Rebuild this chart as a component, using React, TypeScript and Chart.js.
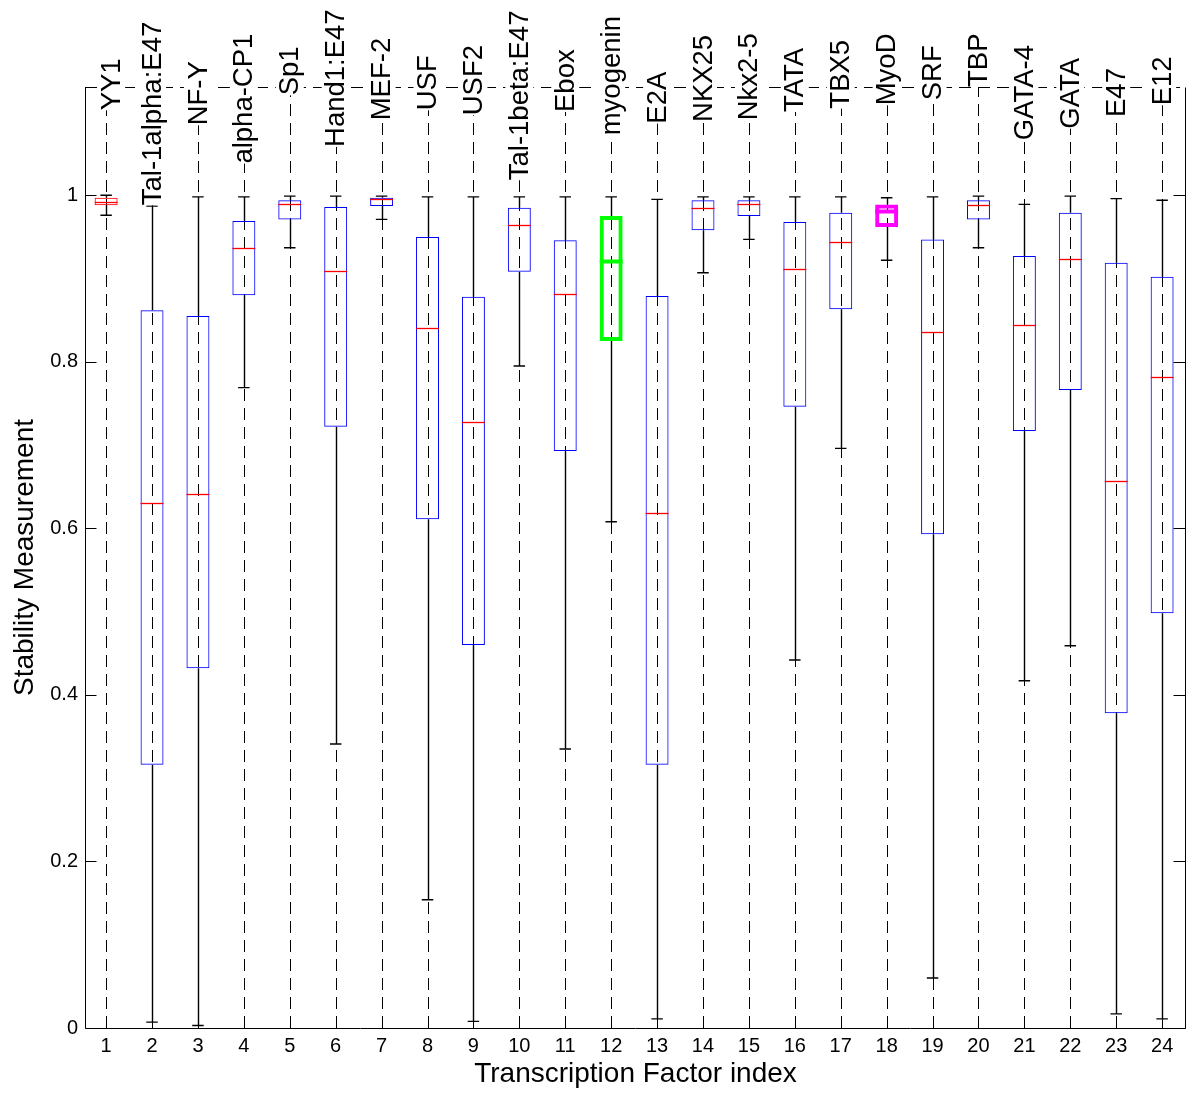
import React, { useEffect, useRef } from "react";
import { Chart, registerables } from "chart.js";

Chart.register(...registerables);

// ---------- data ----------
const factorNames = [
  "YY1", "Tal-1alpha:E47", "NF-Y", "alpha-CP1", "Sp1", "Hand1:E47", "MEF-2", "USF",
  "USF2", "Tal-1beta:E47", "Ebox", "myogenin", "E2A", "NKX25", "Nkx2-5", "TATA",
  "TBX5", "MyoD", "SRF", "TBP", "GATA-4", "GATA", "E47", "E12",
];
const factorIndex = [1, 2, 3, 4, 5, 6, 7, 8, 9, 10, 11, 12, 13, 14, 15, 16, 17, 18, 19, 20, 21, 22, 23, 24];

const whiskerLow = [0.976, 0.007, 0.003, 0.769, 0.937, 0.341, 0.971, 0.154, 0.008, 0.795, 0.335, 0.608,
  0.011, 0.907, 0.947, 0.442, 0.696, 0.922, 0.060, 0.937, 0.417, 0.459, 0.017, 0.011];
const quartile1 = [0.988, 0.316, 0.432, 0.880, 0.971, 0.722, 0.987, 0.611, 0.460, 0.908, 0.693, 0.825,
  0.316, 0.958, 0.975, 0.746, 0.863, 0.962, 0.593, 0.971, 0.717, 0.766, 0.378, 0.498];
const medians = [0.992, 0.630, 0.641, 0.937, 0.989, 0.909, 0.995, 0.840, 0.728, 0.964, 0.881, 0.921,
  0.618, 0.985, 0.989, 0.911, 0.944, 0.981, 0.836, 0.988, 0.844, 0.923, 0.657, 0.782];
const quartile3 = [0.997, 0.862, 0.855, 0.969, 0.994, 0.986, 0.997, 0.950, 0.878, 0.985, 0.946, 0.975,
  0.879, 0.994, 0.994, 0.968, 0.979, 0.989, 0.947, 0.994, 0.927, 0.979, 0.919, 0.902];
const whiskerHigh = [1.0, 0.987, 0.998, 0.998, 0.999, 0.999, 0.999, 0.998, 0.998, 0.998, 0.998, 0.998,
  0.995, 0.998, 0.998, 0.998, 0.998, 0.997, 0.998, 0.999, 0.989, 0.999, 0.996, 0.994];
// y value where each rotated factor name begins
const nameStart = [1.102, 0.988, 1.084, 1.038, 1.120, 1.058, 1.090, 1.102, 1.096, 1.018, 1.100, 1.072,
  1.086, 1.088, 1.090, 1.100, 1.104, 1.108, 1.114, 1.130, 1.066, 1.080, 1.094, 1.108];
const yTickValues = [0, 0.2, 0.4, 0.6, 0.8, 1];
const yTickLabels = ["0", "0.2", "0.4", "0.6", "0.8", "1"];
const xRange = [0.54, 24.52];
const yRange = [0, 1.13];

// ---------- styles ----------
const FONT = '"Liberation Sans", Arial, Helvetica, sans-serif';
const special: Record<string, string> = { YY1: "#ff0000", myogenin: "#00ff00", MyoD: "#ff00ff" };
const thick: Record<string, boolean> = { myogenin: true, MyoD: true };
const boxColor = (i: number) => special[factorNames[i]] || "#0000ff";
const medianColor = (i: number) => special[factorNames[i]] || "#ff0000";
const lineW = (i: number) => (thick[factorNames[i]] ? 4 : 1);

const extrasPlugin = {
  id: "boxExtras",
  beforeDatasetsDraw(chart: any) {
    const { ctx, chartArea: a, scales } = chart;
    const x = scales.x, y = scales.y;
    ctx.save();
    ctx.strokeStyle = "#000";
    ctx.lineWidth = 1;
    // dashed verticals
    ctx.setLineDash([12, 7]);
    factorIndex.forEach((v) => {
      const px = Math.round(x.getPixelForValue(v)) + 0.5;
      ctx.beginPath();
      ctx.moveTo(px, a.bottom);
      ctx.lineTo(px, a.top);
      ctx.stroke();
    });
    // dashed top edge
    const top = Math.round(a.top) + 0.5;
    ctx.beginPath();
    ctx.moveTo(a.left, top);
    ctx.lineTo(a.right, top);
    ctx.stroke();
    ctx.setLineDash([]);
    // solid left, right, bottom edges
    const L = Math.round(a.left) + 0.5, R = Math.round(a.right) - 0.5, B = Math.round(a.bottom) + 0.5;
    ctx.beginPath();
    ctx.moveTo(L, top); ctx.lineTo(L, B); ctx.lineTo(R, B); ctx.lineTo(R, top);
    ctx.stroke();
    // inside tick marks
    yTickValues.forEach((v) => {
      const py = Math.round(y.getPixelForValue(v)) + 0.5;
      ctx.beginPath();
      ctx.moveTo(L, py); ctx.lineTo(L + 11, py);
      ctx.moveTo(R, py); ctx.lineTo(R - 12, py);
      ctx.stroke();
    });
    // whiskers
    ctx.lineWidth = 1.4;
    factorIndex.forEach((v, i) => {
      const cx = Math.round(x.getPixelForValue(v)) + 0.5;
      const capL = x.getPixelForValue(v - 0.125), capR = x.getPixelForValue(v + 0.125);
      const yHi = y.getPixelForValue(whiskerHigh[i]), yQ3 = y.getPixelForValue(quartile3[i]);
      const yLo = y.getPixelForValue(whiskerLow[i]), yQ1 = y.getPixelForValue(quartile1[i]);
      ctx.beginPath();
      ctx.moveTo(cx, yQ3); ctx.lineTo(cx, yHi);
      ctx.moveTo(capL, yHi); ctx.lineTo(capR, yHi);
      ctx.moveTo(cx, yQ1); ctx.lineTo(cx, yLo);
      ctx.moveTo(capL, yLo); ctx.lineTo(capR, yLo);
      ctx.stroke();
    });
    ctx.restore();
  },
  afterDatasetsDraw(chart: any) {
    const { ctx, scales } = chart;
    const x = scales.x, y = scales.y;
    ctx.save();
    factorIndex.forEach((v, i) => {
      const l = x.getPixelForValue(v - 0.25), r = x.getPixelForValue(v + 0.25);
      const py = Math.round(y.getPixelForValue(medians[i])) + 0.5;
      ctx.strokeStyle = medianColor(i);
      ctx.lineWidth = lineW(i) === 1 ? 1.3 : 4;
      ctx.beginPath();
      ctx.moveTo(l, py); ctx.lineTo(r, py);
      ctx.stroke();
    });
    ctx.restore();
  },
  afterDraw(chart: any) {
    const { ctx, scales } = chart;
    const x = scales.x, y = scales.y;
    ctx.save();
    ctx.font = `27.5px ${FONT}`;
    ctx.textBaseline = "middle";
    ctx.textAlign = "left";
    factorIndex.forEach((v, i) => {
      const px = x.getPixelForValue(v) + (i === 0 ? 5 : 0);
      const py = y.getPixelForValue(nameStart[i]);
      const w = ctx.measureText(factorNames[i]).width;
      ctx.save();
      ctx.translate(px, py);
      ctx.rotate(-Math.PI / 2);
      ctx.fillStyle = "#fff";
      ctx.fillRect(0, -14, w + 2, 28);
      ctx.fillStyle = "#000";
      ctx.fillText(factorNames[i], 0, 1);
      ctx.restore();
    });
    ctx.restore();
  },
};

export default function App() {
  const ref = useRef<HTMLCanvasElement | null>(null);
  useEffect(() => {
    if (!ref.current) return;
    const chart = new Chart(ref.current, {
      type: "bar",
      data: {
        datasets: [
          {
            data: factorIndex.map((v, i) => ({ x: v, y: [quartile1[i], quartile3[i]] })) as any,
            backgroundColor: "rgba(0,0,0,0)",
            borderColor: factorIndex.map((_, i) => boxColor(i)),
            borderWidth: factorIndex.map((_, i) => lineW(i)),
            borderSkipped: false,
            barPercentage: 0.5,
            categoryPercentage: 1,
          } as any,
        ],
      },
      options: {
        animation: false,
        responsive: false,
        events: [],
        layout: { padding: { top: 79, right: 6, left: 0, bottom: 0 } },
        plugins: { legend: { display: false }, tooltip: { enabled: false } },
        scales: {
          x: {
            type: "linear",
            min: xRange[0],
            max: xRange[1],
            bounds: "data",
            offset: false,
            grid: { display: false, drawTicks: false },
            border: { display: false },
            afterBuildTicks: (s: any) => { s.ticks = factorIndex.map((v) => ({ value: v })); },
            ticks: {
              autoSkip: false,
              maxRotation: 0,
              minRotation: 0,
              padding: 6,
              color: "#000",
              font: { family: FONT, size: 20 },
              callback: (v: any) => String(v),
            },
            title: {
              display: true,
              text: "Transcription Factor index",
              color: "#000",
              font: { family: FONT, size: 28, lineHeight: 1 },
              padding: { top: 0, bottom: 0 },
            },
            afterFit: (s: any) => { s.height = 60; },
          } as any,
          y: {
            type: "linear",
            min: yRange[0],
            max: yRange[1],
            bounds: "data",
            grid: { display: false, drawTicks: false },
            border: { display: false },
            afterBuildTicks: (s: any) => { s.ticks = yTickValues.map((v) => ({ value: v })); },
            ticks: {
              autoSkip: false,
              padding: 7,
              color: "#000",
              font: { family: FONT, size: 20 },
              callback: (v: any) => yTickLabels[yTickValues.indexOf(+Number(v).toFixed(1))] ?? String(v),
            },
            title: {
              display: true,
              text: "Stability Measurement",
              color: "#000",
              font: { family: FONT, size: 28, lineHeight: 1.2 },
              padding: { top: 0, bottom: 0 },
            },
            afterFit: (s: any) => { s.width = 77; },
          } as any,
        },
      },
      plugins: [extrasPlugin],
    });
    return () => chart.destroy();
  }, []);
  return (
    <div style={{ width: 1184, height: 1080 }}>
      <canvas ref={ref} width={1184} height={1080} style={{ display: "block", width: 1184, height: 1080 }} />
    </div>
  );
}
